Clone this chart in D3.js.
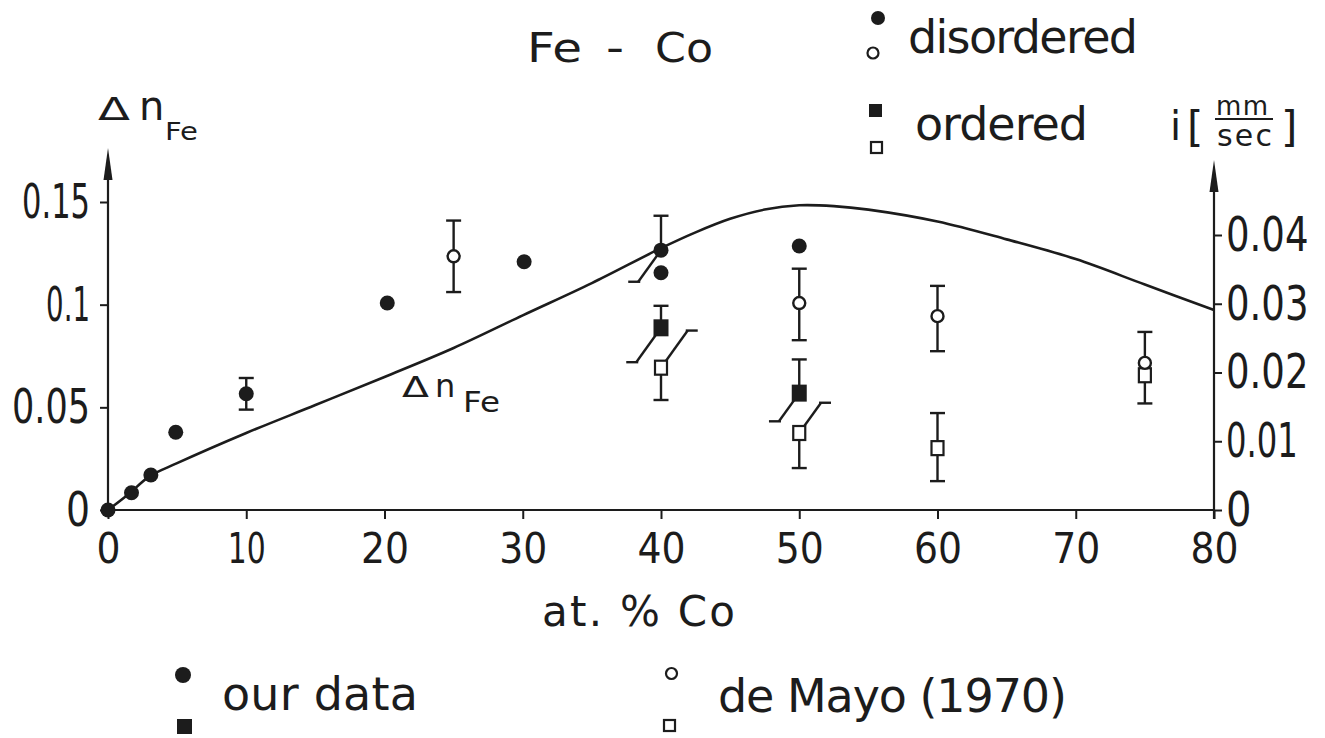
<!DOCTYPE html>
<html>
<head>
<meta charset="utf-8">
<script src="https://cdn.jsdelivr.net/npm/d3@7"></script>
<style>
  body { margin: 0; background: #fff; }
  text { fill: #1c1c1c; }
  .num { font-family: "DejaVu Sans Condensed", "DejaVu Sans", sans-serif; }
  .lbl { font-family: "DejaVu Sans", sans-serif; }
</style>
</head>
<body>
<svg id="chart" width="1325" height="738"></svg>
<script>
// calculated curve, delta n_Fe (left axis)
var curveX  = [0, 1.5, 3, 5, 10, 15, 20, 25, 30, 35, 40, 42.5, 45, 47.5, 50, 52.5, 55, 60, 65, 70, 75, 80];
var curveDn = [0, 0.0078, 0.0164, 0.0228, 0.0375, 0.0511, 0.0648, 0.0789, 0.0948, 0.1105, 0.1275, 0.1352, 0.1418, 0.1463, 0.1484, 0.148, 0.1463, 0.1405, 0.1318, 0.1222, 0.1098, 0.0974];

// isomer shift i [mm/sec] (right axis): [at.% Co, i, err up, err down]
var ourDisordered  = [[0, 0], [1.7, 0.0025], [3.1, 0.0051], [4.9, 0.0113], [10, 0.0169, 0.0023, 0.0023],
                      [20.2, 0.0301], [30.1, 0.0361], [40, 0.0378, 0.005, 0.0046], [40, 0.0345], [50, 0.0384]];
var ourOrdered     = [[40, 0.0265, 0.0032, 0.005], [50, 0.017, 0.0049, 0.0041]];
var mayoDisordered = [[25, 0.0369, 0.0052, 0.0052], [50, 0.0301, 0.005, 0.0054], [60, 0.0282, 0.0044, 0.0051], [75, 0.0214, 0.0045, 0]];
var mayoOrdered    = [[40, 0.0207, 0.0054, 0.0047], [50, 0.0112, 0.0044, 0.0051], [60, 0.009, 0.0051, 0.0048], [75, 0.0196, 0, 0.0041]];

// error bar ends that are drawn slanted to keep clear of neighbours
var slantedEnds = [
  {series: "ourDisordered", index: 7, side: "down"},
  {series: "ourOrdered", index: 0, side: "down"},
  {series: "ourOrdered", index: 1, side: "down"},
  {series: "mayoOrdered", index: 0, side: "up"},
  {series: "mayoOrdered", index: 1, side: "up"}
];

var xTicks = [0, 10, 20, 30, 40, 50, 60, 70, 80];
var yLeftTicks = [0, 0.05, 0.1, 0.15];
var yLeftLabels = ["0", "0.05", "0.1", "0.15"];
var yRightTicks = [0, 0.01, 0.02, 0.03, 0.04];
var yRightLabels = ["0", "0.01", "0.02", "0.03", "0.04"];

var ink = "#1c1c1c";
var svg = d3.select("#chart");

var x = d3.scaleLinear().domain([0, 80]).range([108, 1214]);
var yL = d3.scaleLinear().domain([0, 0.15]).range([510, 202]);
var yR = d3.scaleLinear().domain([0, 0.04]).range([510, 235]);

// the lettering is narrow for digits: squeeze each label to its width
function numWidth(s, wide) {
  var w = 0;
  s.split("").forEach(function(c){ w += c == "." ? 6 : (c == "1" ? wide * 0.58 : wide); });
  return w;
}

// axes
var gx = svg.append("g").attr("transform", "translate(0," + yL(0) + ")")
  .call(d3.axisBottom(x).tickValues(xTicks).tickSize(9).tickSizeOuter(0).tickPadding(13));
var gl = svg.append("g").attr("transform", "translate(" + x(0) + ",0)")
  .call(d3.axisLeft(yL).tickValues(yLeftTicks).tickFormat(function(d, i){ return yLeftLabels[i]; })
    .tickSize(8).tickSizeOuter(0).tickPadding(10));
var gr = svg.append("g").attr("transform", "translate(" + x(80) + ",0)")
  .call(d3.axisRight(yR).tickValues(yRightTicks).tickFormat(function(d, i){ return yRightLabels[i]; })
    .tickSize(8).tickSizeOuter(0).tickPadding(4));

[gx, gl, gr].forEach(function(g){
  g.attr("font-family", null).attr("font-size", null);
  g.select(".domain").remove();
  g.selectAll(".tick line").attr("stroke", ink).attr("stroke-width", 2);
  g.selectAll(".tick text").attr("class", "num").attr("fill", ink).attr("lengthAdjust", "spacingAndGlyphs");
});
gx.selectAll(".tick text").style("font-size", "43px")
  .attr("textLength", function(){ return numWidth(this.textContent, 24); });
gl.selectAll(".tick text").style("font-size", "48px")
  .attr("textLength", function(){ return numWidth(this.textContent, 24); });
gr.selectAll(".tick text").style("font-size", "48px")
  .attr("textLength", function(){ return numWidth(this.textContent, 25.5); });

// axis lines with arrows
svg.append("line").attr("x1", x(0)).attr("x2", x(80)).attr("y1", yL(0)).attr("y2", yL(0))
  .attr("stroke", ink).attr("stroke-width", 2.2);
svg.append("line").attr("x1", x(0)).attr("x2", x(0)).attr("y1", yL(0)).attr("y2", 160)
  .attr("stroke", ink).attr("stroke-width", 2.2);
svg.append("line").attr("x1", x(80)).attr("x2", x(80)).attr("y1", yL(0) + 9).attr("y2", 172)
  .attr("stroke", ink).attr("stroke-width", 2.2);
function arrow(px, tip) {
  svg.append("path").attr("d", "M" + px + "," + tip + " L" + (px - 4.5) + "," + (tip + 32) + " L" + (px + 4.5) + "," + (tip + 32) + "Z")
    .attr("fill", ink);
}
arrow(x(0), 148);
arrow(x(80), 160);

// curve
var line = d3.line().x(function(d){ return x(d[0]); }).y(function(d){ return yL(d[1]); }).curve(d3.curveCatmullRom.alpha(0.5));
svg.append("path").datum(curveX.map(function(v, i){ return [v, curveDn[i]]; }))
  .attr("d", line).attr("fill", "none").attr("stroke", ink).attr("stroke-width", 2.6);

// error bars
var series = {ourDisordered: ourDisordered, ourOrdered: ourOrdered, mayoDisordered: mayoDisordered, mayoOrdered: mayoOrdered};
var gErr = svg.append("g").attr("stroke", ink).attr("stroke-width", 2.4).attr("fill", "none");
Object.keys(series).forEach(function(key){
  series[key].forEach(function(d, idx){
    var cx = x(d[0]), cy = yR(d[1]);
    ["up", "down"].forEach(function(side){
      var e = side == "up" ? d[2] : d[3];
      if (!e) return;
      var ey = yR(side == "up" ? d[1] + e : d[1] - e);
      var slant = slantedEnds.some(function(s){ return s.series == key && s.index == idx && s.side == side; });
      if (slant) {
        var dir = side == "up" ? 1 : -1;
        var ex = cx + dir * 0.72 * Math.abs(ey - cy);
        gErr.append("line").attr("x1", cx).attr("y1", cy).attr("x2", ex).attr("y2", ey);
        gErr.append("line").attr("x1", ex - dir * 2).attr("x2", ex + dir * 10).attr("y1", ey).attr("y2", ey);
      } else {
        gErr.append("line").attr("x1", cx).attr("y1", cy).attr("x2", cx).attr("y2", ey);
        gErr.append("line").attr("x1", cx - 7.5).attr("x2", cx + 7.5).attr("y1", ey).attr("y2", ey);
      }
    });
  });
});

// markers
function circles(data, r, filled) {
  svg.append("g").selectAll("circle").data(data).enter().append("circle")
    .attr("cx", function(d){ return x(d[0]); }).attr("cy", function(d){ return yR(d[1]); })
    .attr("r", r).attr("fill", filled ? ink : "#fff").attr("stroke", ink).attr("stroke-width", filled ? 0 : 2.4);
}
function squares(data, s, filled) {
  svg.append("g").selectAll("rect").data(data).enter().append("rect")
    .attr("x", function(d){ return x(d[0]) - s / 2; }).attr("y", function(d){ return yR(d[1]) - s / 2 - 1; })
    .attr("width", s).attr("height", s + 2)
    .attr("fill", filled ? ink : "#fff").attr("stroke", ink).attr("stroke-width", filled ? 0 : 2.2);
}
squares(mayoOrdered, 12, false);
circles(mayoDisordered, 6, false);
squares(ourOrdered, 15, true);
circles(ourDisordered, 7.5, true);

// texts
function txt(s, px, py, size, len, adj) {
  var t = svg.append("text").attr("x", px).attr("y", py).attr("class", "lbl")
    .style("font-size", size + "px").text(s);
  if (len) t.attr("textLength", len).attr("lengthAdjust", adj || "spacing");
  return t;
}
txt("Fe", 527, 62, 41, 55, "spacingAndGlyphs");
txt("-", 606, 62, 41, 18, "spacingAndGlyphs");
txt("Co", 655, 62, 41, 58, "spacingAndGlyphs");
txt("disordered", 908, 53, 46, 230);
txt("ordered", 915, 140, 46, 173);
txt("at. % Co", 542, 626, 42, 193);
txt("our data", 222, 710, 46, 196);
txt("de Mayo (1970)", 718, 712, 46, 349);

// left axis title
txt("\u0394", 98, 120, 32, 32, "spacingAndGlyphs");
txt("n", 139, 120, 40);
txt("Fe", 165, 140, 25, 33, "spacingAndGlyphs");
// curve label
txt("\u0394", 402, 397, 28, 27, "spacingAndGlyphs");
txt("n", 435, 397, 32);
txt("Fe", 463, 412, 29, 37, "spacingAndGlyphs");
// right axis title
txt("i", 1170, 140, 40);
txt("[", 1187, 142, 42);
txt("mm", 1216, 115, 26, 52);
svg.append("line").attr("x1", 1215).attr("x2", 1273).attr("y1", 119).attr("y2", 119).attr("stroke", ink).attr("stroke-width", 2);
txt("sec", 1217, 146, 30, 55);
txt("]", 1281, 142, 42);

// legend markers
var lg = svg.append("g");
lg.append("circle").attr("cx", 878).attr("cy", 18).attr("r", 7).attr("fill", ink);
lg.append("circle").attr("cx", 873).attr("cy", 53).attr("r", 5.5).attr("fill", "#fff").attr("stroke", ink).attr("stroke-width", 2.2);
lg.append("rect").attr("x", 869).attr("y", 104).attr("width", 13).attr("height", 13).attr("fill", ink);
lg.append("rect").attr("x", 871).attr("y", 142).attr("width", 11).attr("height", 11).attr("fill", "#fff").attr("stroke", ink).attr("stroke-width", 2.2);
lg.append("circle").attr("cx", 183).attr("cy", 675).attr("r", 8).attr("fill", ink);
lg.append("rect").attr("x", 177).attr("y", 719).attr("width", 15).attr("height", 15).attr("fill", ink);
lg.append("circle").attr("cx", 671.5).attr("cy", 673.5).attr("r", 5.5).attr("fill", "#fff").attr("stroke", ink).attr("stroke-width", 2.2);
lg.append("rect").attr("x", 664).attr("y", 720).attr("width", 11).attr("height", 11).attr("fill", "#fff").attr("stroke", ink).attr("stroke-width", 2.2);
</script>
</body>
</html>
